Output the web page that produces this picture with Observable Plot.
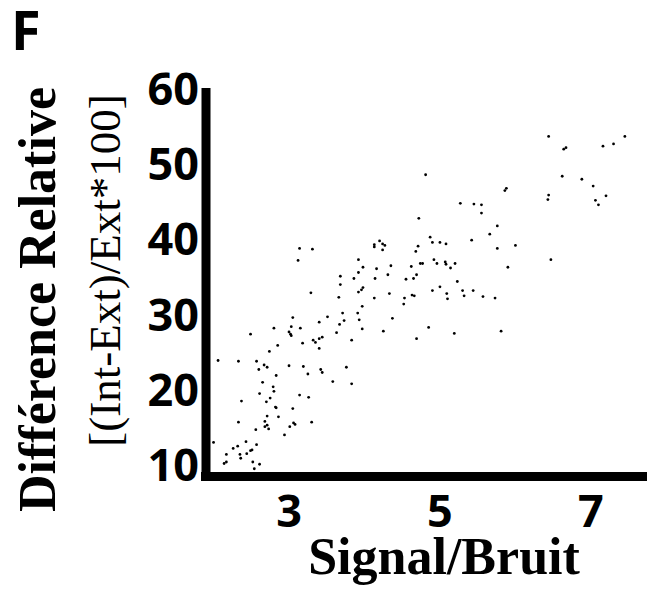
<!DOCTYPE html>
<html>
<head>
<meta charset="utf-8">
<script src="https://cdn.jsdelivr.net/npm/d3@7"></script>
<script src="https://cdn.jsdelivr.net/npm/@observablehq/plot@0.6"></script>
<style>
  html, body { margin: 0; padding: 0; background: #fff; }
  g[aria-label^="x-axis"] text, g[aria-label^="y-axis"] text {
    font-family: "Open Sans", sans-serif; font-size: 45px; font-weight: 700; fill: #000;
  }
</style>
</head>
<body>
<div id="chart"></div>
<script>
// Signal/Bruit (x) values
const signalBruit = [
  4.81,4.72,4.87,3.14,3.31,3.12,4.13,4.13,4.20,4.24,4.27,4.24,3.92,3.98,4.16,4.35,4.71,4.68,4.74,4.77,4.62,
  6.44,6.64,6.67,7.16,7.30,7.45,6.62,6.88,7.03,7.20,7.06,7.10,6.44,6.43,5.86,5.88,5.27,5.45,5.55,5.55,5.76,5.66,5.42,5.76,6.00,
  4.90,5.00,5.08,4.92,4.96,5.07,5.08,5.14,5.20,5.90,6.47,
  5.23,4.90,5.00,5.09,5.10,5.30,5.32,5.44,5.57,5.73,4.85,5.19,5.81,
  3.68,3.68,3.86,3.92,4.14,4.31,4.55,4.65,4.69,3.29,3.66,3.92,3.96,3.98,4.13,4.33,4.53,4.52,4.63,4.66,3.97,
  3.05,3.51,3.71,3.91,3.40,3.73,3.93,3.67,3.97,4.37,4.25,4.69,2.80,3.03,3.15,2.49,3.00,3.02,3.03,3.18,3.32,3.35,3.40,3.44,3.40,3.63,3.83,
  2.85,2.74,2.06,2.33,2.57,2.60,2.67,2.71,3.00,3.19,3.25,3.42,3.44,3.76,3.58,3.83,2.83,2.65,2.79,2.80,2.61,2.75,2.70,2.37,3.14,3.26,
  2.82,2.83,3.05,2.86,2.71,2.68,2.71,2.73,2.68,3.06,3.08,3.01,3.30,2.33,2.56,2.94,2.00,2.43,2.57,2.26,2.32,2.17,2.35,2.36,2.44,2.49,2.51,
  2.14,2.17,2.52,2.61,2.54
];
// Différence Relative (y) values
const diffRelative = [
  48.8,43.0,40.5,39.0,38.9,37.4,39.5,39.2,40.0,39.6,39.4,38.8,37.5,36.5,36.3,36.7,39.3,38.6,37.0,37.0,36.6,
  53.9,52.2,52.4,52.6,52.9,53.9,48.6,48.2,47.3,46.0,45.4,44.8,46.1,45.5,46.7,47.0,45.0,44.9,44.8,43.7,42.0,40.9,40.1,39.0,39.4,
  39.8,39.8,39.6,37.5,37.0,37.2,36.9,36.4,37.0,36.5,37.5,
  34.6,33.4,33.9,33.0,32.3,33.4,32.7,33.4,32.6,32.4,28.5,27.7,28.0,
  35.3,34.2,35.0,35.8,35.0,35.5,34.9,35.0,35.5,33.1,32.5,33.2,33.5,33.8,32.4,33.0,32.4,31.6,32.8,32.7,31.3,
  29.8,29.9,30.4,30.4,29.2,29.4,29.5,28.9,28.3,29.7,28.0,27.0,28.4,28.6,28.4,27.6,27.9,27.6,27.4,26.4,26.8,26.5,27.0,27.2,25.7,27.8,26.8,
  26.1,25.3,24.1,24.0,24.0,22.9,23.5,23.2,23.4,23.3,22.3,22.9,22.5,23.2,21.3,21.0,22.1,21.2,20.6,20.0,19.7,19.1,18.6,18.7,19.5,19.2,
  17.9,17.8,17.7,16.6,16.7,16.0,15.5,15.0,15.3,15.8,15.6,15.3,15.9,15.9,14.9,14.2,13.2,13.3,12.9,12.4,12.7,11.6,11.6,11.1,11.7,12.1,12.2,
  10.4,10.6,10.6,10.3,9.7
];
const xTicks = [3, 5, 7];
const yTicks = [10, 20, 30, 40, 50, 60];
const xDomain = [1.9, 7.75];
const yDomain = [8.67, 60.27];
const panelLabel = "F";
const yTitle = "Différence Relative";
const ySubtitle = "[(Int-Ext)/Ext*100]";
const xTitle = "Signal/Bruit";

const points = signalBruit.map((x, i) => ({x, y: diffRelative[i]}));

const chart = Plot.plot({
  width: 647,
  height: 589,
  marginLeft: 205.5,
  marginRight: 0,
  marginTop: 88,
  marginBottom: 113,
  style: {background: "#fff", color: "#000"},
  x: {domain: xDomain, ticks: xTicks, tickFormat: d => String(d), tickSize: 0, tickPadding: 19, label: null},
  y: {domain: yDomain, ticks: yTicks, tickFormat: d => String(d), tickSize: 0, tickPadding: 7, label: null},
  marks: [
    Plot.dot(points, {x: "x", y: "y", r: 1.4, fill: "#000", stroke: null}),
    Plot.ruleX([xDomain[0]], {stroke: "#000", strokeWidth: 9}),
    Plot.ruleY([yDomain[0]], {stroke: "#000", strokeWidth: 9, strokeLinecap: "square"}),
    Plot.text([panelLabel], {frameAnchor: "top-left", text: d => d, textAnchor: "start", lineAnchor: "bottom",
      dx: -195, dy: -39, fontFamily: "Open Sans", fontWeight: 700, fontSize: 54, fill: "#000"}),
    Plot.text([yTitle], {frameAnchor: "top-left", text: d => d, textAnchor: "middle", lineAnchor: "bottom", rotate: -90,
      dx: -151.5, dy: 211, fontFamily: "Liberation Serif", fontWeight: 700, fontSize: 52, fill: "#000"}),
    Plot.text([ySubtitle], {frameAnchor: "top-left", text: d => d, textAnchor: "middle", lineAnchor: "bottom", rotate: -90,
      dx: -86.5, dy: 182, fontFamily: "Liberation Serif", fontWeight: 400, fontSize: 45, fill: "#000"}),
    Plot.text([xTitle], {frameAnchor: "top-left", text: d => d, textAnchor: "middle", lineAnchor: "bottom",
      dx: 238, dy: 485, fontFamily: "Liberation Serif", fontWeight: 700, fontSize: 52, fill: "#000"})
  ]
});
document.getElementById("chart").appendChild(chart);
</script>
</body>
</html>
